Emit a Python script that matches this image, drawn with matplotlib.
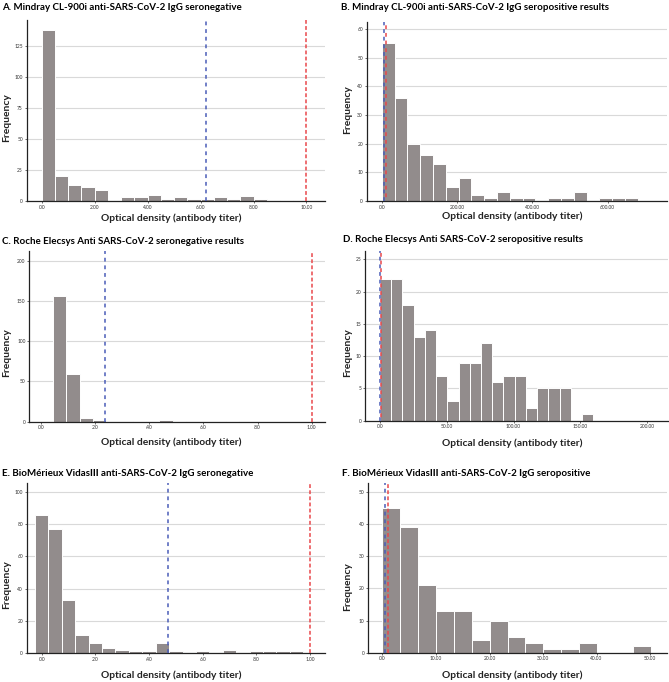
import numpy as np
import matplotlib
matplotlib.use("Agg")
import matplotlib.pyplot as plt
from matplotlib.ticker import FuncFormatter

plt.rcParams['font.family'] = ['Lato', 'DejaVu Sans']

# panel titles
titles = [
    "A. Mindray CL-900i anti-SARS-CoV-2 IgG seronegative",
    "B. Mindray CL-900i anti-SARS-CoV-2 IgG seropositive results",
    "C. Roche Elecsys Anti SARS-CoV-2 seronegative results",
    "D. Roche Elecsys Anti SARS-CoV-2 seropositive results",
    "E. BioMérieux VidasIII anti-SARS-CoV-2 IgG seronegative",
    "F. BioMérieux VidasIII anti-SARS-CoV-2 IgG seropositive",
]

# histogram counts
counts_a = [138, 20, 13, 11, 9, 1, 3, 3, 5, 2, 3, 2, 2, 3, 2, 4, 2, 0, 1, 1]
counts_b = [55, 36, 20, 16, 13, 5, 8, 2, 1, 3, 1, 1, 0, 1, 1, 3, 0, 1, 1, 1]
counts_c = [156, 59, 4, 2, 0, 0, 1, 0, 2, 1, 0, 0, 0, 1, 0, 0, 0, 0, 0, 0]
counts_d = [22, 22, 18, 13, 14, 7, 3, 9, 9, 12, 6, 7, 7, 2, 5, 5, 5, 0, 1]
counts_e = [86, 77, 33, 11, 6, 3, 2, 1, 1, 6, 1, 0, 1, 0, 2, 0, 1, 1, 1, 1]
counts_f = [45, 39, 21, 13, 13, 4, 10, 5, 3, 1, 1, 3, 0, 0, 2]

# first bin edge and bin width
bin_start = [0.0, 0.0, 0.045, 0.0, -0.025, 0.0]
bin_width = [0.5, 34.0, 0.049, 8.4, 0.05, 3.34]

# cut-off lines (blue = lower, red = upper)
cut_blue = [6.2, 6.2, 0.238, 0.238, 0.47, 0.47]
cut_red = [10.0, 10.0, 1.0, 1.0, 1.0, 1.0]

xticks = [[0, 2, 4, 6, 8, 10], [0, 200, 400, 600], [0, .2, .4, .6, .8, 1.0],
          [0, 50, 100, 150, 200], [0, .2, .4, .6, .8, 1.0], [0, 10, 20, 30, 40, 50]]
yticks = [[0, 25, 50, 75, 100, 125], [0, 10, 20, 30, 40, 50, 60], [0, 50, 100, 150, 200],
          [0, 5, 10, 15, 20, 25], [0, 20, 40, 60, 80, 100], [0, 10, 20, 30, 40, 50]]
xlims = [(-0.57, 10.7), (-40, 757), (-0.043, 1.049), (-11.2, 215.6), (-0.056, 1.056), (-2.7, 53.1)]
ylims = [146, 62.6, 212, 26.3, 105.6, 52.8]

all_counts = [counts_a, counts_b, counts_c, counts_d, counts_e, counts_f]

W, H = 669, 682
# axes boxes in pixels: left, right, top, bottom
boxes = [(26.7, 325, 20, 201), (366.7, 666.7, 21.7, 201),
         (29.3, 325, 251, 421.7), (365, 668, 251, 420.7),
         (26.7, 325, 483, 653), (368, 666.7, 483, 652.7)]
title_pos = [(2, 7), (341, 7), (2, 241), (343, 240), (2, 473), (342, 473)]
xlabel_pos = [(171, 218), (512, 216), (171, 442), (512, 443), (171, 675), (512, 675)]
ylabel_pos = [(7, 118), (348, 110), (7, 353), (348, 353), (7, 585), (348, 587)]

BAR = '#928c8c'
BLUE = '#4a5db8'
RED = '#e9484b'


def fmt(v, pos):
    s = f"{v:.2f}"
    if s.startswith("0"):
        s = s[1:]
    return s


fig = plt.figure(figsize=(W / 100, H / 100), dpi=100)

for i in range(6):
    l, r, t, b = boxes[i]
    ax = fig.add_axes([l / W, 1 - b / H, (r - l) / W, (b - t) / H])
    c = np.array(all_counts[i])
    edges = bin_start[i] + bin_width[i] * np.arange(len(c))
    ax.bar(edges, c, width=bin_width[i], align='edge', color=BAR,
           edgecolor='white', linewidth=0.7, zorder=2)
    ax.set_xlim(*xlims[i])
    ax.set_ylim(0, ylims[i])
    ax.set_xticks(xticks[i])
    ax.xaxis.set_major_formatter(FuncFormatter(fmt))
    ax.set_yticks(yticks[i])
    ax.grid(axis='y', color='#d9d9d9', linewidth=0.8, zorder=0)
    ax.set_axisbelow(True)
    for s in ['top', 'right']:
        ax.spines[s].set_visible(False)
    for s in ['left', 'bottom']:
        ax.spines[s].set_color('#222222')
        ax.spines[s].set_linewidth(0.9)
    ax.tick_params(labelsize=3.5, length=1.2, width=0.5, pad=1.5, colors='#333333')
    ax.axvline(cut_blue[i], color=BLUE, linewidth=1.1, linestyle=(0, (2.5, 2.5)), zorder=3)
    ax.axvline(cut_red[i], color=RED, linewidth=1.1,
               linestyle=(2.5, (2.5, 2.5)) if i in (1, 3) else (0, (2.5, 1.5)), zorder=3)

    fig.text(title_pos[i][0] / W, 1 - title_pos[i][1] / H, titles[i], fontsize=7,
             fontweight='bold', ha='left', va='center')
    fig.text(xlabel_pos[i][0] / W, 1 - xlabel_pos[i][1] / H, "Optical density (antibody titer)",
             fontsize=7.4, fontweight='bold', ha='center', va='center', color='#222222')
    fig.text(ylabel_pos[i][0] / W, 1 - ylabel_pos[i][1] / H, "Frequency", fontsize=7.4,
             fontweight='bold', ha='center', va='center', rotation=90, color='#222222')

fig.savefig("out.png", dpi=100)
